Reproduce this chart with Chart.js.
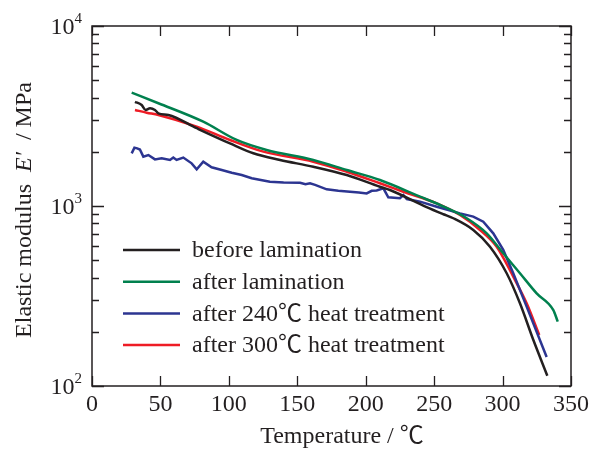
<!DOCTYPE html>
<html>
<head>
<meta charset="utf-8">
<script src="https://cdn.jsdelivr.net/npm/chart.js@4.4.1/dist/chart.umd.min.js"></script>
<style>
  html, body { margin: 0; padding: 0; background: #fff; }
  #wrap { width: 601px; height: 450px; position: relative; }
</style>
</head>
<body>
<div id="wrap"><canvas id="modulusChart"></canvas></div>
<script>
// Elastic modulus E' vs temperature, log y axis
const FONT = '"Liberation Serif", "Times New Roman", "Noto Sans CJK JP", serif';
const INK = '#231f20';

const seriesLabels = ['before lamination', 'after lamination', 'after 240\u2103 heat treatment', 'after 300\u2103 heat treatment'];
const seriesColors = ['#231f20', '#00804e', '#2c3591', '#ee1c25'];

const xTicks = [0, 50, 100, 150, 200, 250, 300, 350];
const yMajorTicks = [100, 1000, 10000];
const yMinorTicks = [200, 300, 400, 500, 600, 700, 800, 900, 2000, 3000, 4000, 5000, 6000, 7000, 8000, 9000];

// before lamination
const beforeT = [31.4, 36.3, 39.2, 42.4, 46, 48.5, 55.8, 76.5, 100.8, 117.9, 137.4, 161.7, 186.1, 210.4, 217.7, 244.5, 256.7, 264, 278.6, 290.8, 303, 312.7, 322.5, 332.7];
const beforeE = [3794, 3639, 3415, 3491, 3415, 3273, 3206, 2704, 2228, 1963, 1802, 1653, 1486, 1279, 1227, 985, 900, 855, 736, 594, 423, 288, 180, 114];

// after lamination
const afterT = [29, 48.5, 81.3, 105.7, 127.6, 161.7, 186.1, 210.4, 239.7, 254.3, 273.8, 288.4, 300.5, 312.7, 324.9, 337.1, 340.3];
const afterE = [4260, 3724, 2940, 2327, 2047, 1802, 1585, 1394, 1127, 1013, 855, 705, 546, 423, 327, 264, 228];

// after 240 C heat treatment
const t240T = [29, 31, 33, 35, 37.5, 41.2, 46, 50.9, 57, 59.4, 61.8, 66.7, 72.8, 76.5, 81.3, 87.4, 94.8, 102.1, 109.4, 116.7, 130, 140, 152, 156, 159.3, 163, 171.5, 180, 188.5, 195, 200.7, 204.4, 208, 212.9, 216.5, 225, 227.5, 230, 239.7, 251.9, 268.9, 278.6, 285.9, 293.2, 300.5, 307.8, 317.6, 332.2];
const t240E = [1960, 2110, 2090, 2060, 1880, 1920, 1815, 1841, 1802, 1858, 1802, 1858, 1726, 1600, 1763, 1641, 1585, 1531, 1486, 1426, 1365, 1350, 1346, 1320, 1337, 1310, 1238, 1215, 1200, 1190, 1175, 1215, 1220, 1253, 1117, 1104, 1151, 1093, 1057, 991, 910, 873, 818, 705, 570, 423, 276, 145];

// after 300 C heat treatment
const t300T = [31.4, 40, 48.5, 76.5, 100.8, 125.2, 161.7, 186.1, 210.4, 227.5, 251.9, 268.9, 283.5, 295.7, 307.8, 317.6, 326.8];
const t300E = [3415, 3300, 3206, 2762, 2327, 2004, 1763, 1551, 1337, 1200, 1035, 891, 736, 594, 405, 288, 192];

function toPoints(xs, ys) {
  return xs.map((x, i) => ({ x: x, y: ys[i] }));
}

const seriesData = [
  toPoints(beforeT, beforeE),
  toPoints(afterT, afterE),
  toPoints(t240T, t240E),
  toPoints(t300T, t300E)
];

// frame, inward ticks, y labels with superscripts, axis title, legend
const decorPlugin = {
  id: 'decor',
  afterDatasetsDraw(chart) {
    const ctx = chart.ctx;
    const a = chart.chartArea;
    const xs = chart.scales.x;
    const ys = chart.scales.y;
    ctx.save();
    ctx.strokeStyle = INK;
    ctx.lineWidth = 1.5;
    ctx.strokeRect(a.left, a.top, a.right - a.left, a.bottom - a.top);

    ctx.lineWidth = 1.3;
    ctx.beginPath();
    xTicks.forEach(v => {
      const px = Math.round(xs.getPixelForValue(v)) + 0.5;
      ctx.moveTo(px, a.bottom); ctx.lineTo(px, a.bottom - 10);
      ctx.moveTo(px, a.top); ctx.lineTo(px, a.top + 10);
    });
    yMajorTicks.forEach(v => {
      const py = Math.round(ys.getPixelForValue(v)) + 0.5;
      ctx.moveTo(a.left, py); ctx.lineTo(a.left + 12, py);
      ctx.moveTo(a.right, py); ctx.lineTo(a.right - 12, py);
    });
    yMinorTicks.forEach(v => {
      const py = Math.round(ys.getPixelForValue(v)) + 0.5;
      ctx.moveTo(a.left, py); ctx.lineTo(a.left + 7, py);
      ctx.moveTo(a.right, py); ctx.lineTo(a.right - 7, py);
    });
    ctx.stroke();

    // y tick labels 10^n
    ctx.fillStyle = INK;
    ctx.textBaseline = 'alphabetic';
    yMajorTicks.forEach(v => {
      const py = ys.getPixelForValue(v);
      const exp = String(Math.round(Math.log10(v)));
      ctx.font = '15px ' + FONT;
      const ew = ctx.measureText(exp).width;
      ctx.textAlign = 'left';
      const right = a.left - 10;
      ctx.fillText(exp, right - ew, py - 3);
      ctx.font = '24px ' + FONT;
      ctx.textAlign = 'right';
      ctx.fillText('10', right - ew, py + 8);
    });

    // y axis title with italic E'
    const parts = [
      { t: 'Elastic modulus ', f: '24px ' + FONT },
      { t: ' E\u2032 ', f: 'italic 24px ' + FONT },
      { t: ' / MPa', f: '24px ' + FONT }
    ];
    let total = 0;
    parts.forEach(p => { ctx.font = p.f; p.w = ctx.measureText(p.t).width; total += p.w; });
    ctx.translate(25, 210);
    ctx.rotate(-Math.PI / 2);
    ctx.textAlign = 'left';
    ctx.textBaseline = 'middle';
    let cx = -total / 2;
    parts.forEach(p => { ctx.font = p.f; ctx.fillText(p.t, cx, 0); cx += p.w; });
    ctx.setTransform(1, 0, 0, 1, 0, 0);

    // x axis title
    ctx.font = '24px ' + FONT;
    ctx.textAlign = 'center';
    ctx.textBaseline = 'alphabetic';
    ctx.fillText('Temperature / \u2103', 342, 443);

    // legend inside plot
    ctx.font = '24px ' + FONT;
    ctx.textAlign = 'left';
    ctx.textBaseline = 'middle';
    chart.data.datasets.forEach((ds, i) => {
      const ly = 250 + i * 31.7;
      ctx.strokeStyle = ds.borderColor;
      ctx.lineWidth = 2.5;
      ctx.beginPath();
      ctx.moveTo(123, ly); ctx.lineTo(180, ly);
      ctx.stroke();
      ctx.fillStyle = INK;
      ctx.fillText(ds.label, 192, ly + 1);
    });
    ctx.restore();
  }
};

new Chart(document.getElementById('modulusChart'), {
  type: 'line',
  data: {
    datasets: seriesData.map((pts, i) => ({
      label: seriesLabels[i],
      data: pts,
      borderColor: seriesColors[i],
      backgroundColor: seriesColors[i],
      borderWidth: 2.5,
      pointRadius: 0,
      fill: false,
      tension: i === 2 ? 0 : 0.35,
      cubicInterpolationMode: i === 2 ? 'default' : 'monotone'
    }))
  },
  options: {
    responsive: true,
    maintainAspectRatio: false,
    animation: false,
    layout: { padding: { left: 0, right: 30, top: 26, bottom: 0 } },
    plugins: {
      legend: { display: false },
      tooltip: { enabled: false }
    },
    scales: {
      x: {
        type: 'linear',
        min: 0,
        max: 350,
        grid: { display: false, drawTicks: false },
        border: { display: false },
        afterBuildTicks: (scale) => { scale.ticks = xTicks.map(v => ({ value: v })); },
        afterFit: (scale) => { scale.height = 64; },
        ticks: {
          color: INK,
          font: { family: FONT, size: 24 },
          padding: 4,
          maxRotation: 0,
          autoSkip: false
        }
      },
      y: {
        type: 'logarithmic',
        min: 100,
        max: 10000,
        grid: { display: false, drawTicks: false },
        border: { display: false },
        afterFit: (scale) => { scale.width = 92; },
        ticks: { display: false }
      }
    }
  },
  plugins: [decorPlugin]
});
</script>
</body>
</html>
